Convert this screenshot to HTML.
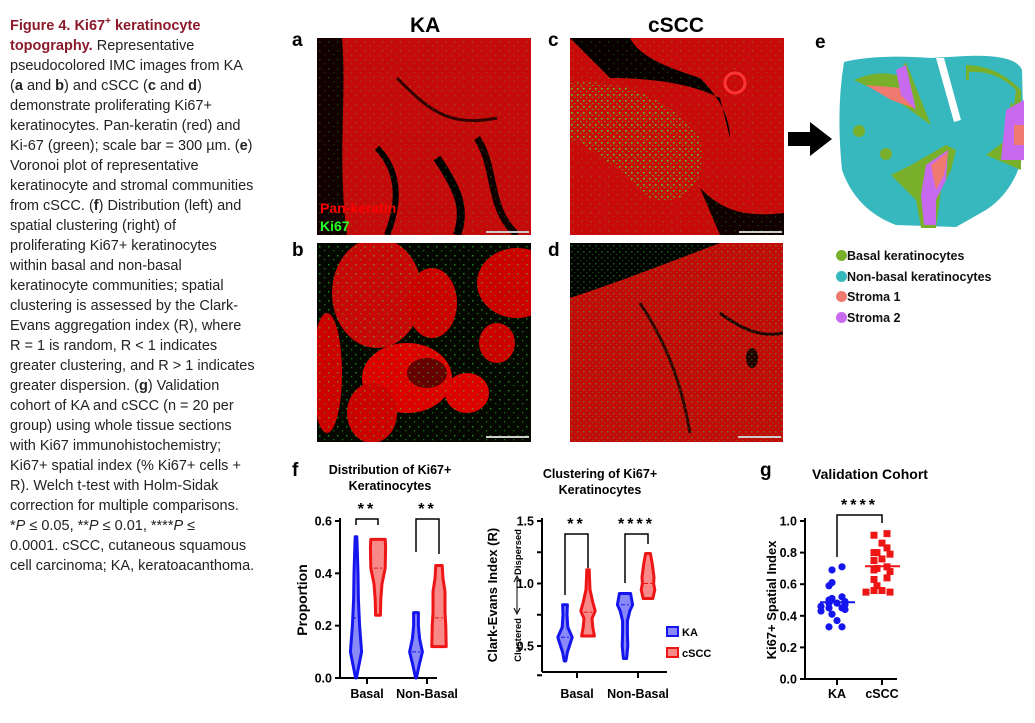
<!DOCTYPE html>
<html><head><meta charset="utf-8">
<style>
body{margin:0;width:1035px;height:723px;background:#fff;position:relative;overflow:hidden;font-family:"Liberation Sans",sans-serif}
#caption{position:absolute;left:10px;top:12px;width:265px;font-size:14.5px;line-height:20px;color:#222;white-space:nowrap}
#caption .t{color:#8b1a2b;font-weight:bold}
.lbl{position:absolute;font-weight:bold;font-size:19px;color:#000}
.img{position:absolute;background:#b00808;overflow:hidden}
</style></head><body>
<div id="caption">
<span class="t">Figure 4. Ki67<sup style="font-size:10px">+</sup> keratinocyte</span><br>
<span class="t">topography.</span> Representative<br>
pseudocolored IMC images from KA<br>
(<b>a</b> and <b>b</b>) and cSCC (<b>c</b> and <b>d</b>)<br>
demonstrate proliferating Ki67+<br>
keratinocytes. Pan-keratin (red) and<br>
Ki-67 (green); scale bar = 300 µm. (<b>e</b>)<br>
Voronoi plot of representative<br>
keratinocyte and stromal communities<br>
from cSCC. (<b>f</b>) Distribution (left) and<br>
spatial clustering (right) of<br>
proliferating Ki67+ keratinocytes<br>
within basal and non-basal<br>
keratinocyte communities; spatial<br>
clustering is assessed by the Clark-<br>
Evans aggregation index (R), where<br>
R = 1 is random, R &lt; 1 indicates<br>
greater clustering, and R &gt; 1 indicates<br>
greater dispersion. (<b>g</b>) Validation<br>
cohort of KA and cSCC (n = 20 per<br>
group) using whole tissue sections<br>
with Ki67 immunohistochemistry;<br>
Ki67+ spatial index (% Ki67+ cells +<br>
R). Welch t-test with Holm-Sidak<br>
correction for multiple comparisons.<br>
*<i>P</i> ≤ 0.05, **<i>P</i> ≤ 0.01, ****<i>P</i> ≤<br>
0.0001. cSCC, cutaneous squamous<br>
cell carcinoma; KA, keratoacanthoma.
</div>

<div class="lbl" style="left:410px;top:14px;font-size:21px">KA</div>
<div class="lbl" style="left:648px;top:14px;font-size:21px">cSCC</div>
<div class="lbl" style="left:292px;top:30px">a</div>
<div class="lbl" style="left:548px;top:30px">c</div>
<div class="lbl" style="left:292px;top:240px">b</div>
<div class="lbl" style="left:548px;top:240px">d</div>
<div class="lbl" style="left:815px;top:32px">e</div>
<div class="lbl" style="left:292px;top:460px">f</div>
<div class="lbl" style="left:760px;top:460px">g</div>

<svg width="0" height="0" style="position:absolute">
<defs>
<pattern id="speck" width="9" height="9" patternUnits="userSpaceOnUse"><rect x="2" y="3" width="1.5" height="1.5" fill="#3f3"/><rect x="7" y="7" width="1.3" height="1.3" fill="#2d2"/></pattern>
<pattern id="speck2" width="6" height="6" patternUnits="userSpaceOnUse"><rect x="1" y="2" width="1.6" height="1.6" fill="#3f3"/><rect x="4" y="5" width="1.3" height="1.3" fill="#2e2"/></pattern>
</defs></svg>

<svg class="img" style="left:317px;top:38px;width:214px;height:197px">
<rect width="214" height="197" fill="#0a0000"/>
<path d="M20 0H214V197H0V60Z" fill="#c40a0a"/>
<path d="M0 0 L25 0 C30 60 20 120 30 197 L0 197Z" fill="#120000"/>
<path d="M60 110 C80 130 85 160 70 197" stroke="#000" stroke-width="6" fill="none"/>
<path d="M120 120 C140 150 150 170 140 197" stroke="#000" stroke-width="8" fill="none"/>
<path d="M160 100 C180 130 170 170 200 197" stroke="#100" stroke-width="7" fill="none"/>
<path d="M80 40 C110 70 130 90 180 80" stroke="#300" stroke-width="3" fill="none"/>
<rect width="214" height="197" fill="url(#speck)" opacity="0.25"/>
<text x="3" y="175" fill="#f00" font-weight="bold" font-size="14" font-family="Liberation Sans,sans-serif">Pan-keratin</text>
<text x="3" y="193" fill="#2f2" font-weight="bold" font-size="14" font-family="Liberation Sans,sans-serif">Ki67</text>
<rect x="169" y="193" width="43" height="2" fill="#ccc"/>
</svg>
<svg class="img" style="left:570px;top:38px;width:214px;height:197px">
<rect width="214" height="197" fill="#c80a0a"/>
<path d="M0 0 H60 C70 20 100 30 130 40 C150 60 160 80 160 100 L150 60 C120 45 80 40 40 40 0 45Z" fill="#080000"/>
<path d="M130 150 C150 170 170 180 214 175 L214 197 H150Z" fill="#100000"/>
<path d="M0 45 C50 40 100 60 130 100 140 150 110 170 80 160 50 130 20 110 0 100Z" fill="url(#speck2)" opacity="0.8"/>
<circle cx="250" cy="35" r="1" fill="none"/>
<circle cx="165" cy="45" r="10" fill="none" stroke="#f33" stroke-width="3"/>
<rect width="214" height="197" fill="url(#speck)" opacity="0.25"/>
<rect x="169" y="193" width="43" height="2" fill="#ccc"/>
</svg>
<svg class="img" style="left:317px;top:243px;width:214px;height:199px">
<rect width="214" height="199" fill="#050800"/>
<ellipse cx="60" cy="50" rx="45" ry="55" fill="#c80808"/><ellipse cx="115" cy="60" rx="25" ry="35" fill="#c00"/>
<ellipse cx="200" cy="40" rx="40" ry="35" fill="#c00"/><ellipse cx="90" cy="135" rx="45" ry="35" fill="#d00"/>
<ellipse cx="55" cy="170" rx="25" ry="30" fill="#c00"/><ellipse cx="150" cy="150" rx="22" ry="20" fill="#d00"/>
<ellipse cx="10" cy="130" rx="15" ry="60" fill="#c00"/><ellipse cx="110" cy="130" rx="20" ry="15" fill="#600"/>
<ellipse cx="180" cy="100" rx="18" ry="20" fill="#c00"/>
<rect width="214" height="199" fill="url(#speck)" opacity="0.5"/>
<rect x="169" y="193" width="43" height="2" fill="#ccc"/>
</svg>
<svg class="img" style="left:570px;top:243px;width:213px;height:199px">
<rect width="213" height="199" fill="#c20a0a"/>
<path d="M0 0H150C110 15 60 35 0 55Z" fill="#000"/>
<path d="M70 60 C90 90 110 130 120 190" stroke="#300" stroke-width="3" fill="none"/>
<path d="M150 70 C170 85 190 95 213 90" stroke="#200" stroke-width="3" fill="none"/>
<ellipse cx="182" cy="115" rx="6" ry="10" fill="#200"/>
<rect width="213" height="199" fill="url(#speck2)" opacity="0.35"/>
<rect x="168" y="193" width="43" height="2" fill="#ccc"/>
</svg>

<svg style="position:absolute;left:788px;top:120px" width="45" height="40"><path d="M0 12H22V2L44 19 22 36V26H0Z" fill="#000"/></svg>

<svg style="position:absolute;left:836px;top:50px" width="190" height="180">
<path d="M8 12 Q40 4 95 8 L130 6 Q180 4 186 20 L188 100 Q180 140 150 160 L120 177 L60 175 Q20 160 6 120 Q0 60 8 12Z" fill="#37b8be"/>
<path d="M18 30 Q40 20 60 25 L70 12 L85 50 L95 75 L60 50 Z" fill="#78b02c"/>
<path d="M30 35 L65 38 L78 58 L55 50Z" fill="#f07a70"/><path d="M60 20 L70 15 L80 60 L65 45Z" fill="#c86af0"/>
<path d="M130 15 Q160 15 185 40 L185 120 L150 105 L170 90 L175 50 Q150 25 130 30Z" fill="#78b02c"/>
<path d="M133 22 Q160 20 180 40 L178 55 Q155 32 133 30Z" fill="#37b8be"/>
<path d="M170 60 L188 50 L188 110 L165 110 Z" fill="#c86af0"/><path d="M178 75 L188 75 L188 95 L178 95Z" fill="#f07a70"/>
<path d="M75 115 L110 95 L120 100 L115 120 L105 140 L100 178 L85 178 L80 150 L55 125Z" fill="#78b02c"/>
<path d="M90 115 L112 100 L110 130 L100 150 L100 175 L88 175 L85 145Z" fill="#c86af0"/>
<path d="M95 115 L112 102 L108 125 L100 140Z" fill="#f07a70"/>
<path d="M100 8 L108 8 L125 70 L118 72Z" fill="#fff"/>
<circle cx="23" cy="81" r="6" fill="#78b02c"/><circle cx="50" cy="104" r="6" fill="#78b02c"/>
</svg>
<div style="position:absolute;left:836px;top:246px;font-size:12.5px;font-weight:bold;line-height:20.5px;color:#111">
<div><span style="display:inline-block;width:11px;height:11px;border-radius:50%;background:#78b02c;vertical-align:-1px"></span>Basal keratinocytes</div>
<div><span style="display:inline-block;width:11px;height:11px;border-radius:50%;background:#37b8be;vertical-align:-1px"></span>Non-basal keratinocytes</div>
<div><span style="display:inline-block;width:11px;height:11px;border-radius:50%;background:#f07a70;vertical-align:-1px"></span>Stroma 1</div>
<div><span style="display:inline-block;width:11px;height:11px;border-radius:50%;background:#c86af0;vertical-align:-1px"></span>Stroma 2</div>
</div>

<svg id="charts" style="position:absolute;left:0;top:0" width="1035" height="723" font-family="Liberation Sans,sans-serif"></svg>

<script>
// ---- Chart f (left): proportion violins ----
const fCategories = ["Basal","Non-Basal"];
const fTicks = [0.0,0.2,0.4,0.6];
// violin profiles: [value, halfWidthFraction]
const fKABasal = [[0.0,0.05],[0.1,0.7],[0.2,0.45],[0.3,0.3],[0.4,0.25],[0.5,0.15],[0.54,0.1]];
const fSCCBasal = [[0.24,0.3],[0.3,0.35],[0.36,0.5],[0.42,0.9],[0.5,0.95],[0.53,0.9]];
const fKANon = [[0.0,0.05],[0.05,0.4],[0.1,0.8],[0.15,0.45],[0.2,0.3],[0.25,0.3]];
const fSCCNon = [[0.12,0.9],[0.2,0.85],[0.25,0.75],[0.33,0.75],[0.38,0.5],[0.43,0.4]];
const fMedians = [0.23,0.42,0.10,0.23];
// ---- Chart f (right): Clark-Evans ----
const cTicks = [0.5,1.0,1.5];
const cKABasal = [[0.38,0.1],[0.45,0.3],[0.57,0.9],[0.65,0.35],[0.75,0.25],[0.83,0.3]];
const cSCCBasal = [[0.58,0.8],[0.65,0.6],[0.72,0.5],[0.78,0.9],[0.85,0.6],[0.95,0.25],[1.11,0.15]];
const cKANon = [[0.4,0.2],[0.5,0.35],[0.6,0.3],[0.7,0.3],[0.78,0.6],[0.83,0.95],[0.92,0.7]];
const cSCCNon = [[0.88,0.6],[0.95,0.85],[1.0,0.7],[1.05,0.75],[1.15,0.55],[1.24,0.3]];
const cMedians = [0.57,0.77,0.83,1.0];
// ---- Chart g ----
const gTicks = [0.0,0.2,0.4,0.6,0.8,1.0];
const gKA = [0.71,0.69,0.61,0.59,0.52,0.51,0.50,0.49,0.48,0.48,0.47,0.46,0.45,0.45,0.44,0.43,0.41,0.37,0.33,0.33];
const gSCC = [0.92,0.91,0.86,0.83,0.80,0.80,0.79,0.76,0.75,0.71,0.70,0.69,0.68,0.64,0.63,0.59,0.56,0.56,0.55,0.55];

const S = document.getElementById('charts');
const NS = 'http://www.w3.org/2000/svg';
function mk(tag, at, txt, name){
  const e = document.createElementNS(NS, tag);
  for (const k in at) e.setAttribute(k, at[k]);
  if (txt !== undefined) e.textContent = txt;
  
  
  S.appendChild(e); return e;
}
function lin(d0,d1,r0,r1){return v=>r0+(v-d0)/(d1-d0)*(r1-r0);}

function axis(x0,x1,yScale,ticks,yTop,yBot,fmt,name){
  mk('line',{x1:x0,y1:yTop,x2:x0,y2:yBot,stroke:'#000','stroke-width':2},undefined,name+'-y-axis');
  mk('line',{x1:x0,y1:yBot,x2:x1,y2:yBot,stroke:'#000','stroke-width':2},undefined,name+'-x-axis');
  ticks.forEach(t=>{
    const y=yScale(t);
    mk('line',{x1:x0-5,y1:y,x2:x0,y2:y,stroke:'#000','stroke-width':2},undefined,name+'-y-tick');
    mk('text',{x:x0-8,y:y+4.5,'text-anchor':'end','font-size':12.5,'font-weight':'bold'},fmt(t),name+'-y-tick-label');
  });
}
function violin(cx,halfMax,yScale,prof,col,fill,med,name){
  let l='',r='';
  prof.forEach((p,i)=>{ l+=(i?'L':'M')+(cx-p[1]*halfMax)+' '+yScale(p[0]); });
  for(let i=prof.length-1;i>=0;i--){ r+='L'+(cx+prof[i][1]*halfMax)+' '+yScale(prof[i][0]); }
  mk('path',{d:l+r+'Z',fill:fill,stroke:col,'stroke-width':3,'stroke-linejoin':'round'},undefined,name);
  const y=yScale(med);
  mk('line',{x1:cx-halfMax*0.5,y1:y,x2:cx+halfMax*0.5,y2:y,stroke:col,'stroke-width':1,'stroke-dasharray':'4 2'},undefined,name+'-median');
}
function bracket(xa,xb,ya,yb,ytop,stars,name){
  mk('path',{d:`M${xa} ${ya}V${ytop}H${xb}V${yb}`,fill:'none',stroke:'#000','stroke-width':1.5},undefined,name);
  mk('text',{x:(xa+xb)/2,y:ytop-5,'text-anchor':'middle','font-size':16,'font-weight':'bold','letter-spacing':'3'},stars,name+'-stars');
}
const BLUE='#1515ee', RED='#ee1515';

// Chart f left
const fy = lin(0,0.6,678,521);
mk('text',{x:390,y:474,'text-anchor':'middle','font-size':12.5,'font-weight':'bold'},'Distribution  of Ki67+','f1-title');
mk('text',{x:390,y:490,'text-anchor':'middle','font-size':12.5,'font-weight':'bold'},'Keratinocytes','f1-title-2');
axis(340,437,fy,fTicks,518,678,t=>t.toFixed(1),'f1');
const fX=[367,427];
fCategories.forEach((c,i)=>{
  mk('line',{x1:fX[i],y1:678,x2:fX[i],y2:684,stroke:'#000','stroke-width':2},undefined,'f1-x-tick');
  mk('text',{x:fX[i],y:698,'text-anchor':'middle','font-size':12.5,'font-weight':'bold'},c,'f1-x-label');
});
mk('text',{x:0,y:0,'text-anchor':'middle','font-size':14,'font-weight':'bold',transform:'translate(307,600) rotate(-90)'},'Proportion','f1-y-title');
violin(356,8,fy,fKABasal,BLUE,'rgba(40,40,240,0.55)',fMedians[0],'f1-violin-ka-basal');
violin(378,8,fy,fSCCBasal,RED,'rgba(240,40,40,0.55)',fMedians[1],'f1-violin-cscc-basal');
violin(416,8,fy,fKANon,BLUE,'rgba(40,40,240,0.55)',fMedians[2],'f1-violin-ka-nonbasal');
violin(439,8,fy,fSCCNon,RED,'rgba(240,40,40,0.55)',fMedians[3],'f1-violin-cscc-nonbasal');
bracket(356,378,525,525,519,'**','f1-bracket-basal');
bracket(416,439,552,554,519,'**','f1-bracket-nonbasal');

// Chart f right
const cy = lin(0.5,1.5,646,521);
mk('text',{x:600,y:478,'text-anchor':'middle','font-size':12.5,'font-weight':'bold'},'Clustering of Ki67+','f2-title');
mk('text',{x:600,y:494,'text-anchor':'middle','font-size':12.5,'font-weight':'bold'},'Keratinocytes','f2-title-2');
axis(542,667,cy,cTicks,518,672,t=>t.toFixed(1),'f2');
mk('line',{x1:537,y1:cy(0.75),x2:542,y2:cy(0.75),stroke:'#000','stroke-width':2},undefined,'f2-minor-tick');
mk('line',{x1:537,y1:cy(1.25),x2:542,y2:cy(1.25),stroke:'#000','stroke-width':2},undefined,'f2-minor-tick');
mk('line',{x1:537,y1:cy(0.25)-2,x2:542,y2:cy(0.25)-2,stroke:'#000','stroke-width':2},undefined,'f2-minor-tick');
const cX=[577,638];
fCategories.forEach((c,i)=>{
  mk('line',{x1:cX[i],y1:672,x2:cX[i],y2:678,stroke:'#000','stroke-width':2},undefined,'f2-x-tick');
  mk('text',{x:cX[i],y:698,'text-anchor':'middle','font-size':12.5,'font-weight':'bold'},c,'f2-x-label');
});
mk('text',{x:0,y:0,'text-anchor':'middle','font-size':13,'font-weight':'bold',transform:'translate(497,595) rotate(-90)'},'Clark-Evans Index (R)','f2-y-title');
mk('text',{x:0,y:0,'text-anchor':'middle','font-size':9.5,'font-weight':'bold',transform:'translate(521,552) rotate(-90)'},'Dispersed','f2-y-dispersed');
mk('text',{x:0,y:0,'text-anchor':'middle','font-size':9.5,'font-weight':'bold',transform:'translate(521,640) rotate(-90)'},'Clustered','f2-y-clustered');
mk('path',{d:'M517 578V612M514 582L517 576 520 582M514 608L517 614 520 608',stroke:'#000','stroke-width':1,fill:'none'},undefined,'f2-y-arrow');
violin(565,8,cy,cKABasal,BLUE,'rgba(40,40,240,0.55)',cMedians[0],'f2-violin-ka-basal');
violin(588,8,cy,cSCCBasal,RED,'rgba(240,40,40,0.55)',cMedians[1],'f2-violin-cscc-basal');
violin(625,8,cy,cKANon,BLUE,'rgba(40,40,240,0.55)',cMedians[2],'f2-violin-ka-nonbasal');
violin(648,8,cy,cSCCNon,RED,'rgba(240,40,40,0.55)',cMedians[3],'f2-violin-cscc-nonbasal');
bracket(565,588,595,568,534,'**','f2-bracket-basal');
bracket(625,648,583,544,534,'****','f2-bracket-nonbasal');
mk('rect',{x:667,y:627,width:11,height:9,fill:'rgba(40,40,240,0.55)',stroke:BLUE,'stroke-width':2},undefined,'legend-ka-swatch');
mk('text',{x:682,y:636,'font-size':11,'font-weight':'bold'},'KA','legend-ka-label');
mk('rect',{x:667,y:648,width:11,height:9,fill:'rgba(240,40,40,0.55)',stroke:RED,'stroke-width':2},undefined,'legend-cscc-swatch');
mk('text',{x:682,y:657,'font-size':11,'font-weight':'bold'},'cSCC','legend-cscc-label');

// Chart g
const gy = lin(0,1,679,521);
mk('text',{x:870,y:479,'text-anchor':'middle','font-size':14,'font-weight':'bold'},'Validation Cohort','g-title');
axis(805,897,gy,gTicks,518,679,t=>t.toFixed(1),'g');
const gX=[837,882], gCats=['KA','cSCC'];
gCats.forEach((c,i)=>{
  mk('line',{x1:gX[i],y1:679,x2:gX[i],y2:685,stroke:'#000','stroke-width':2},undefined,'g-x-tick');
  mk('text',{x:gX[i],y:698,'text-anchor':'middle','font-size':12.5,'font-weight':'bold'},c,'g-x-label');
});
mk('text',{x:0,y:0,'text-anchor':'middle','font-size':13,'font-weight':'bold',transform:'translate(776,600) rotate(-90)'},'Ki67+ Spatial Index','g-y-title');
function jitter(vals,cx){
  const out=[];const used={};
  vals.forEach(v=>{const k=Math.round(gy(v)/5);used[k]=(used[k]||0)+1;const n=used[k];
    const off=(n%2?1:-1)*Math.floor(n/2)*8;out.push([cx+off+((n===1)?((k%3)-1)*5:0),gy(v)]);});
  return out;
}
jitter(gKA,837).forEach(p=>mk('circle',{cx:p[0],cy:p[1],r:3.6,fill:BLUE},undefined,'g-point-ka'));
jitter(gSCC,882).forEach(p=>mk('rect',{x:p[0]-3.5,y:p[1]-3.5,width:7,height:7,fill:RED},undefined,'g-point-cscc'));
const mean=a=>a.reduce((s,v)=>s+v,0)/a.length;
mk('line',{x1:820,x2:855,y1:gy(mean(gKA)),y2:gy(mean(gKA)),stroke:BLUE,'stroke-width':2},undefined,'g-mean-ka');
mk('line',{x1:865,x2:900,y1:gy(mean(gSCC)),y2:gy(mean(gSCC)),stroke:RED,'stroke-width':2},undefined,'g-mean-cscc');
bracket(837,882,557,523,515,'****','g-bracket');
</script>
</body></html>
